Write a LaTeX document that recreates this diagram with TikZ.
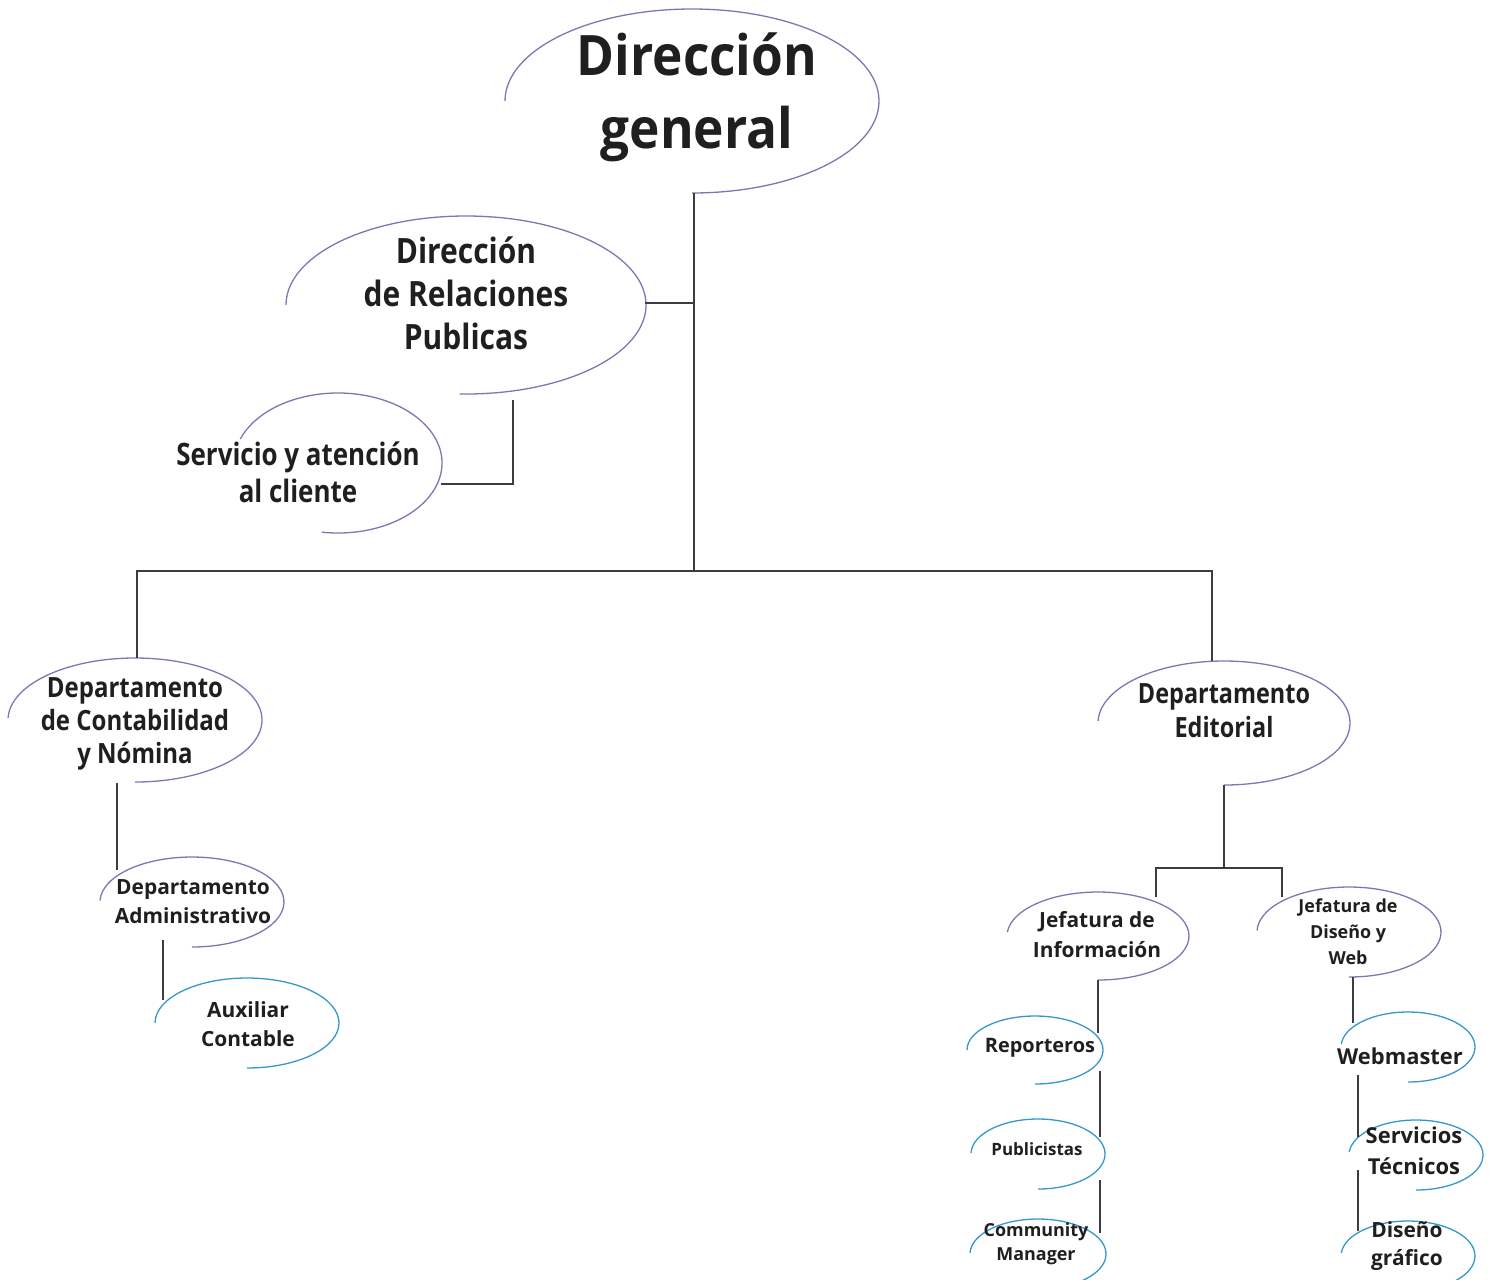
\documentclass[tikz,border=0pt]{standalone}
\usepackage{fontspec}
\setmainfont{Open Sans}
\newfontfamily\fsA{Open Sans}[FakeStretch=0.92]
\newfontfamily\fsB{Open Sans}[FakeStretch=0.86]
\newfontfamily\fsC{Open Sans}[FakeStretch=0.84]
\definecolor{lav}{RGB}{125,118,178}
\definecolor{sky}{RGB}{52,152,204}
\definecolor{wire}{RGB}{60,60,66}
\newcommand\orgarc[7]{\draw[#1] (#2,#3) ++(#6:#4 and #5) arc[start angle=#6, end angle=#7, x radius=#4, y radius=#5];}
\tikzset{
  x=1bp,y=1bp,
  oval/.style={line width=1.3bp},
  upper/.style={oval,draw=lav},
  leaf/.style={oval,draw=sky},
  conn/.style={draw=wire,line width=1.5bp},
  lbl/.style={align=center,font=\bfseries,text=black!88,inner sep=0pt},
}
\begin{document}
\begin{tikzpicture}
\useasboundingbox (0,0) rectangle (1494,-1279);
% ---- ovals
\orgarc{upper}{692}{-101}{187}{92}{180}{-90}
\orgarc{upper}{466}{-305}{180}{89}{180}{-92}
\orgarc{upper}{338}{-463}{104}{70}{160}{-99}
\orgarc{upper}{135}{-720}{127}{62}{178}{-90}
\orgarc{upper}{192}{-902}{92}{45}{178}{-90}
\orgarc{leaf}{247}{-1023}{92}{45}{180}{-90}
\orgarc{upper}{1224}{-723}{126}{62}{178}{-90}
\orgarc{upper}{1098}{-936}{91}{44}{175}{-90}
\orgarc{upper}{1349}{-932}{92}{45}{178}{-90}
\orgarc{leaf}{1035}{-1050}{68}{34}{180}{-90}
\orgarc{leaf}{1038}{-1154}{67}{35}{178}{-90}
\orgarc{leaf}{1038}{-1254}{68}{35}{178}{-90}
\orgarc{leaf}{1408}{-1047}{67}{35}{175}{-90}
\orgarc{leaf}{1416}{-1155}{67}{35}{175}{-90}
\orgarc{leaf}{1408}{-1256}{67}{35}{175}{-90}
% ---- labels
\node[lbl,font=\fsA\bfseries\fontsize{56}{73}\selectfont] (dg) at (697,-97) {Dirección\\general};
\node[lbl,font=\fsB\bfseries\fontsize{35}{43}\selectfont] (drp) at (466,-293) {Dirección\\de Relaciones\\Publicas};
\node[lbl,font=\fsC\bfseries\fontsize{31}{37}\selectfont] (sac) at (298,-472) {Servicio y atención\\al cliente};
\node[lbl,font=\fsB\bfseries\fontsize{28}{33}\selectfont] (dcn) at (135,-724) {Departamento\\de Contabilidad\\y Nómina};
\node[lbl,font=\bfseries\fontsize{21}{29}\selectfont] (dad) at (193,-902) {Departamento\\Administrativo};
\node[lbl,font=\bfseries\fontsize{21}{29}\selectfont] (aux) at (248,-1024) {Auxiliar\\Contable};
\node[lbl,font=\fsC\bfseries\fontsize{28}{34}\selectfont] (ded) at (1224,-711) {Departamento\\Editorial};
\node[lbl,font=\bfseries\fontsize{21}{30}\selectfont] (jin) at (1097,-935) {Jefatura de\\Información};
\node[lbl,font=\bfseries\fontsize{18}{26}\selectfont] (jdw) at (1348,-932) {Jefatura de\\Diseño y\\Web};
\node[lbl,font=\bfseries\fontsize{20}{24}\selectfont] (rep) at (1040,-1048) {Reporteros};
\node[lbl,font=\bfseries\fontsize{17}{24}\selectfont] (pub) at (1037,-1149) {Publicistas};
\node[lbl,font=\bfseries\fontsize{18}{24}\selectfont] (cm) at (1036,-1244) {Community\\Manager};
\node[lbl,font=\bfseries\fontsize{22}{24}\selectfont] (web) at (1400,-1056) {Webmaster};
\node[lbl,font=\bfseries\fontsize{22}{31}\selectfont] (sat) at (1414,-1151) {Servicios\\Técnicos};
\node[lbl,font=\bfseries\fontsize{21}{28}\selectfont] (dgr) at (1407,-1246) {Diseño\\gráfico};
% ---- connector points
\coordinate (dgB) at (694,-193);
\coordinate (j0) at (694,-571);
\coordinate (drpR) at (645,-303);
\coordinate (drpJ) at (694,-303);
\coordinate (sacR) at (441,-484);
\coordinate (sacC) at (513,-484);
\coordinate (sacT) at (513,-400);
\coordinate (jL) at (137,-571);
\coordinate (jR) at (1212,-571);
\coordinate (dcnT) at (137,-658);
\coordinate (dedT) at (1212,-661);
\coordinate (dcnB) at (117,-783);
\coordinate (dadT) at (117,-870);
\coordinate (dadB) at (163,-940);
\coordinate (auxT) at (163,-1000);
\coordinate (dedB) at (1224,-785);
\coordinate (j1) at (1224,-868);
\coordinate (j1L) at (1156,-868);
\coordinate (j1R) at (1282,-868);
\coordinate (jinT) at (1156,-897);
\coordinate (jdwT) at (1282,-897);
\coordinate (jinB) at (1098,-980);
\coordinate (repT) at (1098,-1033);
\coordinate (repB) at (1100,-1071);
\coordinate (pubT) at (1100,-1137);
\coordinate (pubB) at (1100,-1180);
\coordinate (cmT) at (1100,-1233);
\coordinate (jdwB) at (1353,-977);
\coordinate (webT) at (1353,-1023);
\coordinate (webB) at (1358,-1075);
\coordinate (satT) at (1358,-1137);
\coordinate (satB) at (1358,-1170);
\coordinate (dgrT) at (1358,-1231);
% ---- connectors
\draw[conn] (dgB) -- (j0);
\draw[conn] (drpR) -- (drpJ);
\draw[conn] (sacR) -- (sacC) -- (sacT);
\draw[conn] (dcnT) -- (jL) -- (jR) -- (dedT);
\draw[conn] (dcnB) -- (dadT);
\draw[conn] (dadB) -- (auxT);
\draw[conn] (dedB) -- (j1);
\draw[conn] (jinT) -- (j1L) -- (j1R) -- (jdwT);
\draw[conn] (jinB) -- (repT);
\draw[conn] (repB) -- (pubT);
\draw[conn] (pubB) -- (cmT);
\draw[conn] (jdwB) -- (webT);
\draw[conn] (webB) -- (satT);
\draw[conn] (satB) -- (dgrT);
\end{tikzpicture}
\end{document}
